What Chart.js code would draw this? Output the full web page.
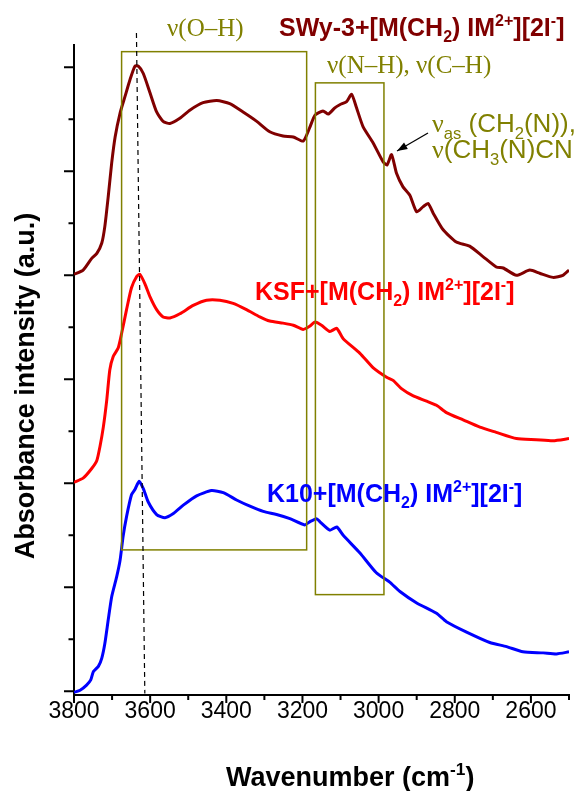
<!DOCTYPE html>
<html>
<head>
<meta charset="utf-8">
<script src="https://cdn.jsdelivr.net/npm/chart.js@4.4.1/dist/chart.umd.min.js"></script>
<style>
  html, body { margin: 0; padding: 0; background: #fff; }
  #wrap { width: 574px; height: 791px; }
</style>
</head>
<body>
<div id="wrap"><canvas id="ftir" width="574" height="791"></canvas></div>
<script>
// wavenumbers (cm-1) and offset absorbance (a.u.)
const swyWave = [3800,3776,3754,3740,3727,3719,3710,3701,3692,3679,3666,3653,3640,3631,3618,3600,3583,3566,3548,3522,3495,3461,3425,3391,3356,3320,3286,3251,3224,3198,3181,3167,3146,3132,3115,3102,3084,3071,3058,3041,3014,2988,2978,2966,2953,2936,2918,2900,2883,2870,2857,2831,2796,2761,2726,2691,2673,2638,2603,2577,2542,2516,2500];
const swyAbs = [4.01,4.05,4.16,4.21,4.31,4.47,4.76,5.08,5.33,5.56,5.72,5.88,6.01,6.01,5.94,5.75,5.57,5.48,5.46,5.51,5.59,5.66,5.68,5.65,5.57,5.48,5.38,5.34,5.33,5.29,5.42,5.54,5.58,5.55,5.61,5.64,5.67,5.74,5.61,5.43,5.27,5.09,5.06,5.16,4.98,4.85,4.77,4.61,4.66,4.69,4.60,4.44,4.32,4.28,4.18,4.08,4.07,4.00,4.05,4.02,3.98,4.00,4.05];

const ksfWave = [3800,3776,3754,3740,3732,3723,3714,3706,3697,3684,3675,3662,3649,3635,3627,3614,3600,3583,3566,3548,3522,3487,3452,3417,3382,3347,3312,3286,3251,3224,3198,3181,3167,3150,3128,3110,3093,3049,3014,2979,2962,2940,2909,2874,2848,2822,2778,2734,2691,2638,2586,2542,2500];
const ksfAbs = [2.01,2.05,2.14,2.22,2.35,2.54,2.80,3.09,3.22,3.30,3.44,3.67,3.88,3.99,4.01,3.92,3.79,3.67,3.60,3.59,3.63,3.71,3.76,3.76,3.73,3.67,3.60,3.56,3.54,3.52,3.48,3.51,3.55,3.52,3.46,3.49,3.39,3.25,3.11,3.02,2.99,2.91,2.84,2.79,2.75,2.68,2.61,2.54,2.49,2.43,2.42,2.41,2.43];

const k10Wave = [3800,3784,3767,3756,3749,3736,3727,3719,3710,3701,3688,3679,3671,3662,3649,3640,3629,3618,3605,3583,3561,3539,3513,3478,3439,3408,3373,3338,3303,3268,3233,3194,3181,3163,3154,3128,3110,3093,3049,3006,2971,2944,2900,2848,2822,2769,2708,2664,2621,2568,2533,2500];
const k10Abs = [-0.01,0.01,0.06,0.11,0.19,0.24,0.32,0.46,0.69,0.91,1.10,1.26,1.49,1.68,1.89,1.94,2.02,1.95,1.82,1.70,1.67,1.71,1.79,1.88,1.93,1.91,1.84,1.78,1.73,1.70,1.66,1.60,1.63,1.66,1.63,1.55,1.58,1.50,1.33,1.14,1.05,0.96,0.85,0.75,0.67,0.57,0.47,0.43,0.38,0.37,0.36,0.38];

const xMajorTicks = [3800, 3600, 3400, 3200, 3000, 2800, 2600];
const xMinorTicks = [3700, 3500, 3300, 3100, 2900, 2700, 2500];
const yMajorTicks = [0, 1, 2, 3, 4, 5, 6];
const yMinorTicks = [0.5, 1.5, 2.5, 3.5, 4.5, 5.5];

const BOLD = 'bold SZ "Liberation Sans", Arial, sans-serif';
const SANS = 'SZ "Liberation Sans", Arial, sans-serif';
const SERIF = 'SZ "Liberation Serif", "Times New Roman", serif';
const OLIVE = '#808000';

function toPoints(xs, ys) {
  return xs.map((x, i) => ({ x: x, y: ys[i] }));
}

// draws text pieces one after another, with sub/superscripts
function drawRich(ctx, parts, x, y, size, color) {
  ctx.fillStyle = color;
  ctx.textAlign = 'left';
  ctx.textBaseline = 'alphabetic';
  let cx = x;
  parts.forEach(p => {
    const txt = p[0], kind = p[1], font = p[2];
    let s = size, dy = 0;
    if (kind === 'sub') { s = size * 0.64; dy = size * 0.25; }
    if (kind === 'sup') { s = size * 0.64; dy = -size * 0.42; }
    ctx.font = font.replace('SZ', s.toFixed(1) + 'px');
    ctx.fillText(txt, cx, y + dy);
    cx += ctx.measureText(txt).width;
  });
}

function seriesLabel(prefix) {
  return [[prefix + '+[M(CH', 'n', BOLD], ['2', 'sub', BOLD], [') IM', 'n', BOLD],
          ['2+', 'sup', BOLD], ['][2I', 'n', BOLD], ['-', 'sup', BOLD], [']', 'n', BOLD]];
}

const decorations = {
  id: 'decorations',
  afterDraw(chart) {
    const { ctx, chartArea, scales: { x, y } } = chart;
    ctx.save();

    // tick marks, long for major and short for minor
    ctx.strokeStyle = '#000';
    ctx.lineWidth = 2;
    ctx.beginPath();
    xMajorTicks.concat(xMinorTicks).forEach(v => {
      const px = x.getPixelForValue(v);
      const len = xMajorTicks.includes(v) ? 8 : 5;
      ctx.moveTo(px, chartArea.bottom);
      ctx.lineTo(px, chartArea.bottom + len);
    });
    yMajorTicks.concat(yMinorTicks).forEach(v => {
      const py = y.getPixelForValue(v);
      const len = yMajorTicks.includes(v) ? 10 : 5.5;
      ctx.moveTo(chartArea.left, py);
      ctx.lineTo(chartArea.left - len, py);
    });
    ctx.stroke();

    // band boxes
    ctx.strokeStyle = OLIVE;
    ctx.lineWidth = 1.5;
    const box = (w1, w2, a1, a2) => {
      const x1 = x.getPixelForValue(w1), x2 = x.getPixelForValue(w2);
      const y1 = y.getPixelForValue(a2), y2 = y.getPixelForValue(a1);
      ctx.strokeRect(x1, y1, x2 - x1, y2 - y1);
    };
    box(3675, 3189, 1.36, 6.15);
    box(3166, 2986, 0.93, 5.85);

    // dashed guide through the O-H maximum
    ctx.strokeStyle = '#000';
    ctx.lineWidth = 1.2;
    ctx.setLineDash([5, 4]);
    ctx.beginPath();
    ctx.moveTo(x.getPixelForValue(3636), y.getPixelForValue(6.33));
    ctx.lineTo(x.getPixelForValue(3614), y.getPixelForValue(-0.02));
    ctx.stroke();
    ctx.setLineDash([]);

    // arrow to the 2966 shoulder
    const ax1 = 428, ay1 = 133, ax2 = 397, ay2 = 151;
    ctx.lineWidth = 1.3;
    ctx.beginPath();
    ctx.moveTo(ax1, ay1);
    ctx.lineTo(ax2, ay2);
    ctx.stroke();
    const ang = Math.atan2(ay2 - ay1, ax2 - ax1);
    ctx.fillStyle = '#000';
    ctx.beginPath();
    ctx.moveTo(ax2, ay2);
    ctx.lineTo(ax2 - 11 * Math.cos(ang - 0.35), ay2 - 11 * Math.sin(ang - 0.35));
    ctx.lineTo(ax2 - 11 * Math.cos(ang + 0.35), ay2 - 11 * Math.sin(ang + 0.35));
    ctx.closePath();
    ctx.fill();

    // series labels
    drawRich(ctx, seriesLabel('SWy-3'), 279, 36, 25, '#800000');
    drawRich(ctx, seriesLabel('KSF'), 255, 300, 25, '#ff0000');
    drawRich(ctx, seriesLabel('K10'), 267, 502, 25, '#0000ff');

    // band assignments
    drawRich(ctx, [['\u03bd(O\u2013H)', 'n', SERIF]], 167, 36, 25, OLIVE);
    drawRich(ctx, [['\u03bd(N\u2013H), \u03bd(C\u2013H)', 'n', SERIF]], 327, 73, 25, OLIVE);
    drawRich(ctx, [['\u03bd', 'n', SERIF], ['as', 'sub', SANS], [' (CH', 'n', SANS],
                   ['2', 'sub', SANS], ['(N)),', 'n', SANS]], 432, 132, 26, OLIVE);
    drawRich(ctx, [['\u03bd', 'n', SERIF], ['(CH', 'n', SANS], ['3', 'sub', SANS],
                   ['(N)CN', 'n', SANS]], 432, 158, 26, OLIVE);

    // axis titles
    drawRich(ctx, [['Wavenumber (cm', 'n', BOLD], ['-1', 'sup', BOLD], [')', 'n', BOLD]], 226, 786, 27, '#000');
    ctx.save();
    ctx.translate(34, 386);
    ctx.rotate(-Math.PI / 2);
    ctx.font = BOLD.replace('SZ', '27px');
    ctx.fillStyle = '#000';
    ctx.textAlign = 'center';
    ctx.textBaseline = 'alphabetic';
    ctx.fillText('Absorbance intensity (a.u.)', 0, 0);
    ctx.restore();

    ctx.restore();
  }
};

const lineStyle = { borderWidth: 3, pointRadius: 0, tension: 0.2, fill: false };

new Chart(document.getElementById('ftir'), {
  type: 'line',
  data: {
    datasets: [
      Object.assign({ label: 'SWy-3', data: toPoints(swyWave, swyAbs), borderColor: '#800000' }, lineStyle),
      Object.assign({ label: 'KSF', data: toPoints(ksfWave, ksfAbs), borderColor: '#ff0000' }, lineStyle),
      Object.assign({ label: 'K10', data: toPoints(k10Wave, k10Abs), borderColor: '#0000ff' }, lineStyle)
    ]
  },
  options: {
    responsive: false,
    animation: false,
    devicePixelRatio: 1,
    layout: { padding: { top: 45, right: 5, left: 0, bottom: 0 } },
    plugins: { legend: { display: false }, tooltip: { enabled: false } },
    scales: {
      x: {
        type: 'linear',
        reverse: true,
        min: 2500,
        max: 3800,
        grid: { display: false, drawTicks: false },
        border: { display: true, color: '#000', width: 2 },
        ticks: {
          stepSize: 100,
          autoSkip: false,
          maxRotation: 0,
          padding: 3,
          color: '#000',
          font: { family: '"Liberation Sans", Arial, sans-serif', size: 23 },
          callback: v => (xMajorTicks.includes(v) ? String(v) : '')
        },
        afterFit: s => { s.height = 96; }
      },
      y: {
        type: 'linear',
        min: -0.035,
        max: 6.214,
        grid: { display: false, drawTicks: false },
        border: { display: true, color: '#000', width: 2 },
        ticks: { display: false },
        afterFit: s => { s.width = 74; }
      }
    }
  },
  plugins: [decorations]
});
</script>
</body>
</html>
